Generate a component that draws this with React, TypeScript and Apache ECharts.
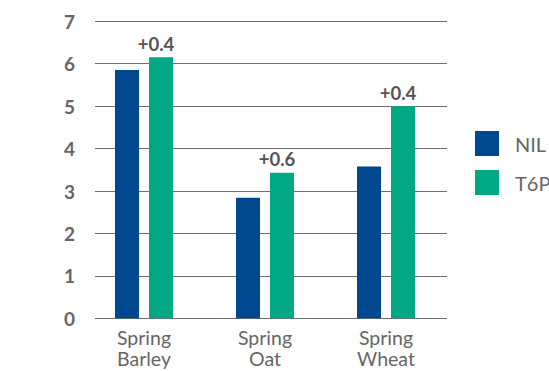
import React, { useEffect, useRef } from "react";
import * as echarts from "echarts";

const categories = ["Spring\nBarley", "Spring\nOat", "Spring\nWheat"];
const nilValues = [5.85, 2.84, 3.58];
const t6pValues = [6.15, 3.43, 5.0];
const gainLabels = ["+0.4", "+0.6", "+0.4"];
const yTicks = [0, 1, 2, 3, 4, 5, 6, 7];

const FONT = "Lato, 'Noto Sans', sans-serif";
const NIL_COLOR = "#00488E";
const T6P_COLOR = "#00A884";

export default function App() {
  const ref = useRef<HTMLDivElement>(null);

  useEffect(() => {
    if (!ref.current) return;
    const chart = echarts.init(ref.current, null, { renderer: "svg" });
    const top = 21.3;
    const bottom = 52.7;
    chart.setOption({
      animation: false,
      backgroundColor: "#ffffff",
      grid: [
        // grid holding the horizontal rules and value labels
        { left: 95, right: 102, top, bottom },
        // grid holding the bars
        { left: 83.5, right: 102.5, top, bottom },
      ],
      legend: {
        orient: "vertical",
        left: 470,
        top: 126,
        itemWidth: 24,
        itemHeight: 25,
        itemGap: 14,
        icon: "rect",
        textStyle: {
          fontFamily: FONT,
          fontSize: 20,
          color: "#666666",
          padding: [0, 0, 0, 11],
        },
        data: ["NIL", "T6P"],
      },
      xAxis: [
        { type: "category", gridIndex: 0, data: categories, show: false },
        {
          type: "category",
          gridIndex: 1,
          data: categories,
          axisLine: { show: false },
          axisTick: { show: false },
          axisLabel: {
            fontFamily: FONT,
            fontSize: 19.5,
            lineHeight: 21,
            color: "#666666",
            margin: 9,
            align: "center",
          },
        },
      ],
      yAxis: [
        {
          type: "value",
          gridIndex: 0,
          min: yTicks[0],
          max: yTicks[yTicks.length - 1],
          interval: 1,
          axisLine: { show: false },
          axisTick: { show: false },
          axisLabel: {
            fontFamily: FONT,
            fontSize: 19,
            fontWeight: "bold",
            color: "#666666",
            margin: 20,
          },
          splitLine: { lineStyle: { color: "#6e6e6e", width: 1 } },
        },
        {
          type: "value",
          gridIndex: 1,
          min: yTicks[0],
          max: yTicks[yTicks.length - 1],
          interval: 1,
          show: false,
          splitLine: { show: false },
        },
      ],
      series: [
        {
          name: "NIL",
          type: "bar",
          xAxisIndex: 1,
          yAxisIndex: 1,
          data: nilValues,
          barWidth: 24,
          barGap: "41.7%",
          itemStyle: { color: NIL_COLOR },
        },
        {
          name: "T6P",
          type: "bar",
          xAxisIndex: 1,
          yAxisIndex: 1,
          data: t6pValues,
          barWidth: 24,
          itemStyle: { color: T6P_COLOR },
          label: {
            show: true,
            position: "top",
            distance: 4,
            offset: [-5, 0],
            fontFamily: FONT,
            fontSize: 18.5,
            fontWeight: "bold",
            color: "#555555",
            formatter: (p: any) => gainLabels[p.dataIndex],
          },
        },
      ],
    });
    return () => chart.dispose();
  }, []);

  return (
    <div
      ref={ref}
      style={{ position: "fixed", left: 0, top: 0, width: 549, height: 371 }}
    />
  );
}
